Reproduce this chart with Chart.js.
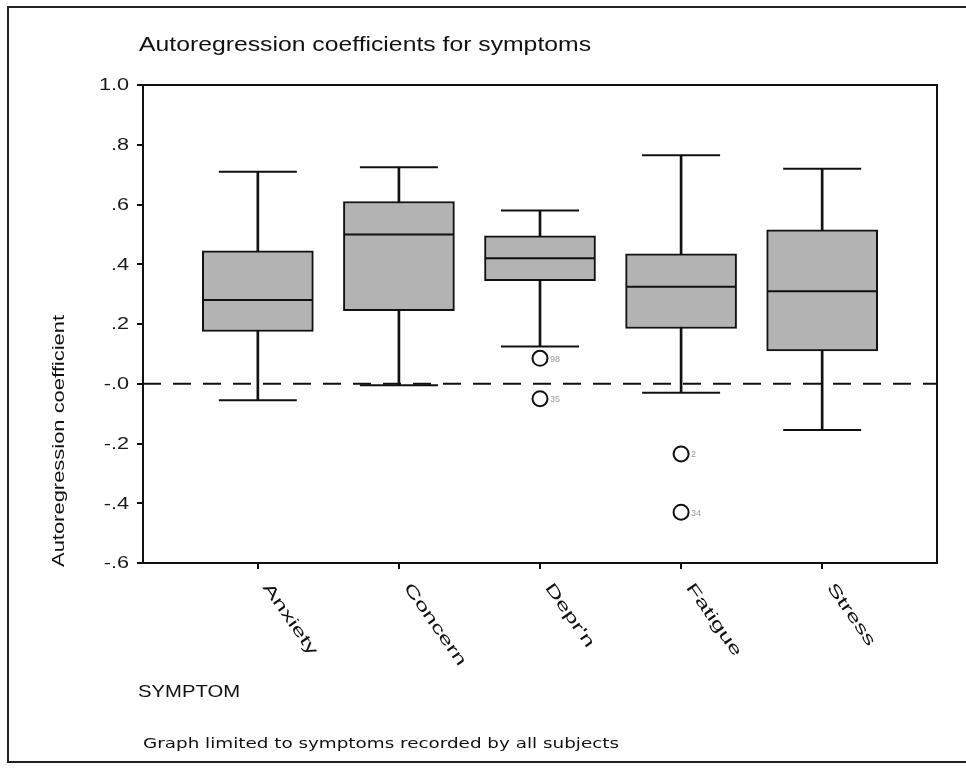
<!DOCTYPE html>
<html>
<head>
<meta charset="utf-8">
<script src="https://cdn.jsdelivr.net/npm/chart.js@4.4.1/dist/chart.umd.min.js"></script>
<style>
  html, body { margin: 0; padding: 0; background: #fff; }
  #wrap { position: relative; width: 966px; height: 769px; }
  canvas { display: block; }
</style>
</head>
<body>
<div id="wrap"><canvas id="c" width="966" height="769"></canvas></div>
<script>
// ---- data ----
const categories   = ["Anxiety", "Concern", "Depr'n", "Fatigue", "Stress"];
const whiskerLow   = [-0.055, -0.005, 0.125, -0.03, -0.155];
const q1           = [0.175, 0.245, 0.345, 0.185, 0.11];
const medians      = [0.28, 0.50, 0.42, 0.325, 0.31];
const q3           = [0.445, 0.61, 0.495, 0.435, 0.515];
const whiskerHigh  = [0.71, 0.725, 0.58, 0.765, 0.72];
const outlierCat   = ["Depr'n", "Depr'n", "Fatigue", "Fatigue"];
const outlierVal   = [0.085, -0.05, -0.235, -0.43];
const outlierIds   = ["98", "35", "2", "34"];
const yTickValues  = [1.0, 0.8, 0.6, 0.4, 0.2, 0.0, -0.2, -0.4, -0.6];
const yTickLabels  = ["1.0", ".8", ".6", ".4", ".2", "-.0", "-.2", "-.4", "-.6"];
const referenceLine = 0;

const titleText    = "Autoregression coefficients for symptoms";
const yTitleText   = "Autoregression coefficient";
const xTitleText   = "SYMPTOM";
const footnoteText = "Graph limited to symptoms recorded by all subjects";

// ---- helpers ----
const X_MIN = 0.186, X_MAX = 5.814;
const catPos = c => categories.indexOf(c) + 1;
const FONT = "'Liberation Sans', Arial, sans-serif";

const whiskerData = categories.map((c, i) => ({ x: i + 1, y: [whiskerLow[i], whiskerHigh[i]] }));
const boxData     = categories.map((c, i) => ({ x: i + 1, y: [q1[i], q3[i]] }));
const capData     = categories.flatMap((c, i) => [{ x: i + 1, y: whiskerLow[i] }, { x: i + 1, y: whiskerHigh[i] }]);
const medianData  = categories.map((c, i) => ({ x: i + 1, y: medians[i] }));
const outlierData = outlierVal.map((v, i) => ({ x: catPos(outlierCat[i]), y: v }));
const refData     = [{ x: X_MIN, y: referenceLine }, { x: X_MAX, y: referenceLine }];

// the reference glyphs are drawn wide: stretch text horizontally
function wideText(ctx, text, x, y, sx, align) {
  ctx.save();
  ctx.translate(x, y);
  ctx.scale(sx, 1);
  ctx.textAlign = align || 'left';
  ctx.fillText(text, 0, 0);
  ctx.restore();
}
function fitText(ctx, text, x, y, width, align) {
  const w = ctx.measureText(text).width;
  wideText(ctx, text, x, y, width / w, align);
}

const decor = {
  id: 'decor',
  beforeDraw(chart) {
    const ctx = chart.ctx;
    ctx.save();
    ctx.fillStyle = '#fff';
    ctx.fillRect(0, 0, chart.width, chart.height);
    ctx.strokeStyle = '#222';
    ctx.lineWidth = 2;
    ctx.beginPath();
    ctx.moveTo(966, 7); ctx.lineTo(8, 7); ctx.lineTo(8, 762); ctx.lineTo(966, 762);
    ctx.stroke();
    ctx.restore();
  },
  afterDraw(chart) {
    const ctx = chart.ctx;
    const a = chart.chartArea;
    const xs = chart.scales.x, ys = chart.scales.y;
    ctx.save();
    // plot frame
    ctx.strokeStyle = '#111';
    ctx.lineWidth = 2;
    ctx.strokeRect(a.left, a.top, a.right - a.left, a.bottom - a.top);

    ctx.fillStyle = '#111';
    ctx.textBaseline = 'alphabetic';
    // title
    ctx.font = "20px " + FONT;
    fitText(ctx, titleText, 139, 51, 452, 'left');

    // y tick labels
    ctx.font = "16px " + FONT;
    ctx.fillStyle = '#1a1a1a';
    ctx.textBaseline = 'middle';
    yTickValues.forEach((v, i) => {
      wideText(ctx, yTickLabels[i], 129, ys.getPixelForValue(v) + 1, 1.35, 'right');
    });

    // y axis title
    ctx.fillStyle = '#111';
    ctx.save();
    ctx.translate(60, 567);
    ctx.rotate(-Math.PI / 2);
    ctx.font = "16px " + FONT;
    ctx.textBaseline = 'middle';
    fitText(ctx, yTitleText, 0, 0, 252, 'left');
    ctx.restore();

    // x category labels (rotated)
    ctx.font = "16px " + FONT;
    categories.forEach((c, i) => {
      const px = xs.getPixelForValue(i + 1);
      ctx.save();
      ctx.translate(px + 8, 585);
      ctx.rotate(55 * Math.PI / 180);
      ctx.textBaseline = 'middle';
      wideText(ctx, c, 0, 0, 1.6, 'left');
      ctx.restore();
    });

    // x axis title
    ctx.textBaseline = 'alphabetic';
    ctx.font = "17px " + FONT;
    fitText(ctx, xTitleText, 138, 697, 102, 'left');

    // footnote
    ctx.font = "14px 'DejaVu Sans', Verdana, sans-serif";
    fitText(ctx, footnoteText, 143, 748, 476, 'left');

    // outlier case ids
    ctx.font = "9px " + FONT;
    ctx.fillStyle = '#999';
    ctx.textBaseline = 'middle';
    outlierVal.forEach((v, i) => {
      const px = xs.getPixelForValue(catPos(outlierCat[i]));
      const py = ys.getPixelForValue(v);
      ctx.fillText(outlierIds[i], px + 10, py + 1);
    });
    ctx.restore();
  }
};

new Chart(document.getElementById('c'), {
  type: 'bar',
  data: {
    datasets: [
      { type: 'bar', label: 'whiskers', data: whiskerData, backgroundColor: '#111', barThickness: 2, grouped: false, order: 5 },
      { type: 'line', label: 'zero', data: refData, borderColor: '#111', borderWidth: 2, borderDash: [18, 12], pointRadius: 0, order: 4 },
      { type: 'bar', label: 'boxes', data: boxData, backgroundColor: '#b3b3b3', borderColor: '#111', borderWidth: 2, borderSkipped: false, barThickness: 111, grouped: false, order: 3 },
      { type: 'line', label: 'caps', data: capData, showLine: false, pointStyle: 'line', pointRadius: 39, pointBorderWidth: 2, pointBorderColor: '#111', pointHoverRadius: 39, order: 2 },
      { type: 'line', label: 'medians', data: medianData, showLine: false, pointStyle: 'line', pointRadius: 55, pointBorderWidth: 2, pointBorderColor: '#111', pointHoverRadius: 55, order: 1 },
      { type: 'line', label: 'outliers', data: outlierData, showLine: false, pointStyle: 'circle', pointRadius: 7.5, pointBorderWidth: 2, pointBorderColor: '#111', pointBackgroundColor: '#fff', order: 0 }
    ]
  },
  options: {
    responsive: false,
    animation: false,
    devicePixelRatio: 1,
    layout: { autoPadding: false, padding: { left: 0, right: 29, top: 85, bottom: 0 } },
    plugins: { legend: { display: false }, tooltip: { enabled: false }, title: { display: false } },
    events: [],
    scales: {
      x: {
        type: 'linear',
        min: X_MIN, max: X_MAX,
        offset: false,
        afterBuildTicks: s => { s.ticks = categories.map((c, i) => ({ value: i + 1 })); },
        afterFit: s => { s.height = 206; },
        ticks: { display: false },
        grid: { offset: false, drawOnChartArea: false, drawTicks: true, tickLength: 6, color: '#111', lineWidth: 2 },
        border: { display: true, color: '#111', width: 2 }
      },
      y: {
        type: 'linear',
        min: -0.6, max: 1.0,
        afterBuildTicks: s => { s.ticks = yTickValues.map(v => ({ value: v })); },
        afterFit: s => { s.width = 143; },
        ticks: { display: false },
        grid: { drawOnChartArea: false, drawTicks: true, tickLength: 6, color: '#111', lineWidth: 2 },
        border: { display: true, color: '#111', width: 2 }
      }
    }
  },
  plugins: [decor]
});
</script>
</body>
</html>
